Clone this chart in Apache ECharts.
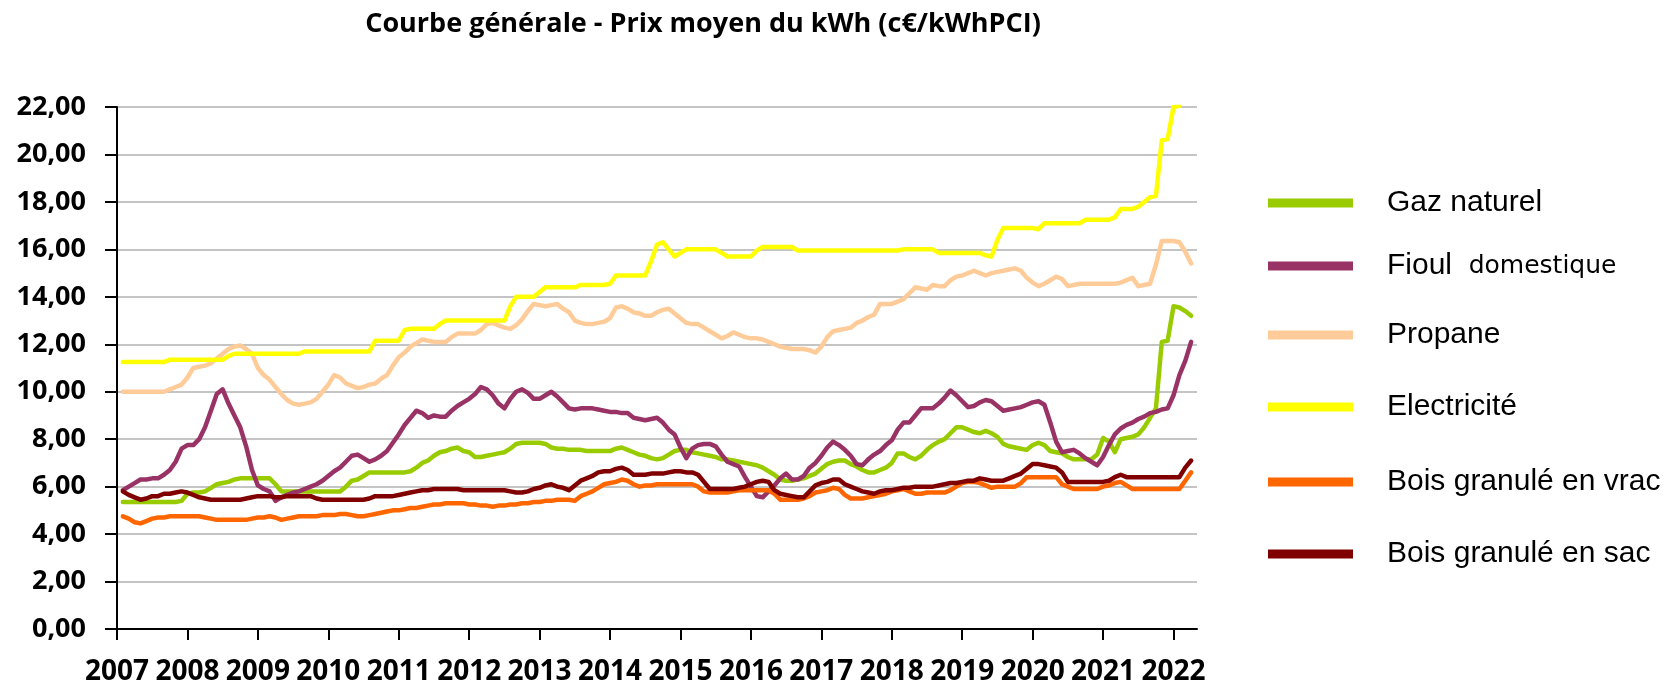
<!DOCTYPE html>
<html>
<head>
<meta charset="utf-8">
<script src="https://cdn.jsdelivr.net/npm/echarts@6/dist/echarts.min.js"></script>
<style>
html,body{margin:0;padding:0;background:#fff;}
#chart{width:1672px;height:686px;}
</style>
</head>
<body>
<div id="chart"></div>
<script>
// ---- Data (c€/kWhPCI), monthly, Jan 2007 .. May 2022 ----
const years = [2007,2008,2009,2010,2011,2012,2013,2014,2015,2016,2017,2018,2019,2020,2021,2022];
const lastYearMonths = 5;
const seriesNames = ['Gaz naturel','Fioul domestique','Propane','Electricité','Bois granulé en vrac','Bois granulé en sac'];
const yTicks = [0,2,4,6,8,10,12,14,16,18,20,22];

const gaz = [
  null,5.35,5.35,5.35,5.35,5.35,5.35,5.35,5.35,5.35,5.35,5.4,
  5.7,5.75,5.75,5.8,5.95,6.1,6.15,6.2,6.3,6.35,6.35,6.35,
  6.35,6.35,6.35,6.1,5.8,5.8,5.8,5.8,5.8,5.8,5.8,5.8,
  5.8,5.8,5.8,6.0,6.25,6.3,6.45,6.6,6.6,6.6,6.6,6.6,
  6.6,6.6,6.65,6.8,7.0,7.1,7.3,7.45,7.5,7.6,7.65,7.5,
  7.45,7.25,7.25,7.3,7.35,7.4,7.45,7.6,7.8,7.85,7.85,7.85,
  7.85,7.8,7.65,7.6,7.6,7.55,7.55,7.55,7.5,7.5,7.5,7.5,
  7.5,7.6,7.65,7.55,7.45,7.35,7.3,7.2,7.15,7.2,7.35,7.5,
  7.55,7.55,7.45,7.4,7.35,7.3,7.25,7.15,7.15,7.1,7.05,7.0,
  6.95,6.9,6.8,6.65,6.5,6.3,6.25,6.25,6.3,6.35,6.45,6.55,
  6.75,6.95,7.05,7.1,7.1,6.95,6.85,6.7,6.6,6.6,6.7,6.8,
  7.0,7.4,7.4,7.25,7.15,7.3,7.55,7.75,7.9,8.0,8.25,8.5,
  8.5,8.4,8.3,8.25,8.35,8.25,8.1,7.8,7.7,7.65,7.6,7.55,
  7.75,7.85,7.75,7.5,7.45,7.4,7.25,7.15,7.15,7.15,7.15,7.35,
  8.05,7.9,7.45,8.0,8.05,8.1,8.2,8.5,8.9,9.3,12.1,12.15,
  13.6,13.55,13.4,13.2,null
];
const fioul = [
  null,5.85,6.0,6.15,6.3,6.3,6.35,6.35,6.5,6.7,7.05,7.6,
  7.75,7.75,8.0,8.5,9.2,9.9,10.1,9.5,9.0,8.5,7.7,6.7,
  6.05,5.9,5.8,5.4,5.55,5.65,5.75,5.8,5.9,6.0,6.1,6.25,
  6.45,6.65,6.8,7.05,7.3,7.35,7.2,7.05,7.15,7.3,7.5,7.85,
  8.2,8.6,8.9,9.2,9.1,8.9,9.0,8.95,8.95,9.2,9.4,9.55,
  9.7,9.9,10.2,10.1,9.85,9.5,9.3,9.7,10.0,10.1,9.95,9.7,
  9.7,9.85,10.0,9.8,9.55,9.3,9.25,9.3,9.3,9.3,9.25,9.2,
  9.15,9.15,9.1,9.1,8.9,8.85,8.8,8.85,8.9,8.7,8.4,8.2,
  7.65,7.2,7.6,7.75,7.8,7.8,7.7,7.35,7.05,6.95,6.85,6.4,
  6.0,5.6,5.55,5.8,6.05,6.35,6.55,6.3,6.3,6.45,6.8,7.0,
  7.3,7.65,7.9,7.75,7.55,7.3,6.95,6.9,7.15,7.35,7.5,7.75,
  7.95,8.4,8.7,8.7,9.0,9.3,9.3,9.3,9.5,9.75,10.05,9.85,
  9.6,9.35,9.4,9.55,9.65,9.6,9.4,9.2,9.25,9.3,9.35,9.45,
  9.55,9.6,9.45,8.7,7.9,7.45,7.5,7.55,7.4,7.2,7.05,6.9,
  7.25,7.75,8.2,8.45,8.6,8.7,8.85,8.95,9.1,9.15,9.25,9.3,
  9.85,10.7,11.3,12.1,null
];
const propane = [
  null,10.0,10.0,10.0,10.0,10.0,10.0,10.0,10.0,10.1,10.2,10.3,
  10.6,11.0,11.05,11.1,11.2,11.4,11.6,11.8,11.9,11.95,11.8,11.6,
  11.0,10.7,10.5,10.2,9.9,9.65,9.5,9.45,9.5,9.55,9.7,10.0,
  10.3,10.7,10.6,10.35,10.25,10.15,10.2,10.3,10.35,10.55,10.7,11.1,
  11.45,11.65,11.9,12.05,12.2,12.15,12.1,12.1,12.1,12.3,12.45,12.45,
  12.45,12.45,12.6,12.85,12.9,12.8,12.7,12.65,12.8,13.05,13.4,13.7,
  13.65,13.6,13.65,13.7,13.5,13.35,13.0,12.9,12.85,12.85,12.9,12.95,
  13.1,13.55,13.6,13.5,13.35,13.3,13.2,13.2,13.35,13.45,13.5,13.3,
  13.1,12.9,12.85,12.85,12.7,12.55,12.4,12.25,12.35,12.5,12.4,12.3,
  12.25,12.25,12.2,12.1,12.0,11.9,11.85,11.8,11.8,11.8,11.75,11.65,
  11.9,12.3,12.55,12.6,12.65,12.7,12.9,13.0,13.15,13.25,13.7,13.7,
  13.7,13.8,13.9,14.15,14.4,14.35,14.3,14.5,14.45,14.45,14.7,14.85,
  14.9,15.0,15.1,15.0,14.9,15.0,15.05,15.1,15.15,15.2,15.1,14.8,
  14.6,14.45,14.55,14.7,14.85,14.75,14.45,14.5,14.55,14.55,14.55,14.55,
  14.55,14.55,14.55,14.6,14.7,14.8,14.45,14.5,14.55,15.35,16.35,16.35,
  16.35,16.3,15.9,15.4,null
];
const electricite = [
  null,11.25,11.25,11.25,11.25,11.25,11.25,11.25,11.25,11.35,11.35,11.35,
  11.35,11.35,11.35,11.35,11.35,11.35,11.35,11.5,11.6,11.6,11.6,11.6,
  11.6,11.6,11.6,11.6,11.6,11.6,11.6,11.6,11.7,11.7,11.7,11.7,
  11.7,11.7,11.7,11.7,11.7,11.7,11.7,11.7,12.15,12.15,12.15,12.15,
  12.15,12.6,12.65,12.65,12.65,12.65,12.65,12.85,13.0,13.0,13.0,13.0,
  13.0,13.0,13.0,13.0,13.0,13.0,13.0,13.6,14.0,14.0,14.0,14.0,
  14.2,14.4,14.4,14.4,14.4,14.4,14.4,14.5,14.5,14.5,14.5,14.5,
  14.55,14.9,14.9,14.9,14.9,14.9,14.9,15.5,16.2,16.3,16.0,15.7,
  15.85,16.0,16.0,16.0,16.0,16.0,16.0,15.85,15.7,15.7,15.7,15.7,
  15.7,15.95,16.1,16.1,16.1,16.1,16.1,16.1,15.95,15.95,15.95,15.95,
  15.95,15.95,15.95,15.95,15.95,15.95,15.95,15.95,15.95,15.95,15.95,15.95,
  15.95,15.95,16.0,16.0,16.0,16.0,16.0,16.0,15.85,15.85,15.85,15.85,
  15.85,15.85,15.85,15.85,15.75,15.7,16.4,16.9,16.9,16.9,16.9,16.9,
  16.9,16.85,17.1,17.1,17.1,17.1,17.1,17.1,17.1,17.25,17.25,17.25,
  17.25,17.25,17.35,17.7,17.7,17.7,17.8,18.0,18.2,18.25,20.6,20.65,
  22.0,22.05,23.5,23.6,null
];
const boisVrac = [
  null,4.75,4.65,4.5,4.45,4.55,4.65,4.7,4.7,4.75,4.75,4.75,
  4.75,4.75,4.75,4.7,4.65,4.6,4.6,4.6,4.6,4.6,4.6,4.65,
  4.7,4.7,4.75,4.7,4.6,4.65,4.7,4.75,4.75,4.75,4.75,4.8,
  4.8,4.8,4.85,4.85,4.8,4.75,4.75,4.8,4.85,4.9,4.95,5.0,
  5.0,5.05,5.1,5.1,5.15,5.2,5.25,5.25,5.3,5.3,5.3,5.3,
  5.25,5.25,5.2,5.2,5.15,5.2,5.2,5.25,5.25,5.3,5.3,5.35,
  5.35,5.4,5.4,5.45,5.45,5.45,5.4,5.6,5.7,5.8,5.95,6.1,
  6.15,6.2,6.3,6.25,6.1,6.0,6.05,6.05,6.1,6.1,6.1,6.1,
  6.1,6.1,6.1,6.0,5.8,5.75,5.75,5.75,5.75,5.8,5.85,5.85,
  5.85,5.85,5.85,5.85,5.7,5.45,5.45,5.45,5.45,5.5,5.6,5.75,
  5.8,5.85,5.95,5.9,5.65,5.5,5.5,5.5,5.55,5.6,5.65,5.7,
  5.8,5.85,5.9,5.8,5.7,5.7,5.75,5.75,5.75,5.75,5.85,6.0,
  6.15,6.2,6.2,6.15,6.05,5.95,6.0,6.0,6.0,6.0,6.15,6.4,
  6.4,6.4,6.4,6.4,6.4,6.1,6.0,5.9,5.9,5.9,5.9,5.9,
  6.0,6.05,6.15,6.2,6.05,5.9,5.9,5.9,5.9,5.9,5.9,5.9,
  5.9,5.9,6.25,6.6,null
];
const boisSac = [
  null,5.8,5.65,5.55,5.45,5.5,5.6,5.6,5.7,5.7,5.75,5.8,
  5.75,5.65,5.55,5.5,5.45,5.45,5.45,5.45,5.45,5.45,5.5,5.55,
  5.6,5.6,5.6,5.55,5.55,5.6,5.6,5.6,5.6,5.6,5.5,5.45,
  5.45,5.45,5.45,5.45,5.45,5.45,5.45,5.5,5.6,5.6,5.6,5.6,
  5.65,5.7,5.75,5.8,5.85,5.85,5.9,5.9,5.9,5.9,5.9,5.85,
  5.85,5.85,5.85,5.85,5.85,5.85,5.85,5.8,5.75,5.75,5.8,5.9,
  5.95,6.05,6.1,6.0,5.95,5.85,6.05,6.25,6.35,6.45,6.6,6.65,
  6.65,6.75,6.8,6.7,6.5,6.5,6.5,6.55,6.55,6.55,6.6,6.65,
  6.65,6.6,6.6,6.5,6.2,5.9,5.9,5.9,5.9,5.9,5.95,6.0,
  6.1,6.2,6.25,6.2,5.85,5.7,5.65,5.6,5.55,5.55,5.8,6.05,
  6.15,6.2,6.3,6.3,6.1,6.0,5.9,5.8,5.75,5.7,5.8,5.85,
  5.85,5.9,5.95,5.95,6.0,6.0,6.0,6.0,6.05,6.1,6.15,6.15,
  6.2,6.25,6.25,6.35,6.3,6.25,6.25,6.25,6.35,6.45,6.55,6.75,
  6.95,6.95,6.9,6.85,6.8,6.6,6.2,6.2,6.2,6.2,6.2,6.2,
  6.2,6.25,6.4,6.5,6.4,6.4,6.4,6.4,6.4,6.4,6.4,6.4,
  6.4,6.4,6.8,7.1,null
];
const seriesColors = ['#99CC00','#993366','#FFCC99','#FFFF00','#FF6600','#800000'];

// ---- Build categories ----
const months = [];
years.forEach((y, i) => {
  const n = (i === years.length - 1) ? lastYearMonths : 12;
  for (let m = 1; m <= n; m++) months.push(y + '-' + (m < 10 ? '0' + m : m));
});
const allData = [gaz, fioul, propane, electricite, boisVrac, boisSac];

const chart = echarts.init(document.getElementById('chart'), null, {renderer: 'canvas'});
const isJan = (idx, val) => String(val).slice(5) === '01';
const legendCenters = [203, 266, 335, 407, 482, 554];

const option = {
  animation: false,
  backgroundColor: '#ffffff',
  title: {
    text: 'Courbe générale - Prix moyen du kWh (c€/kWhPCI)',
    left: 703,
    top: 8,
    textAlign: 'center',
    padding: 0,
    textStyle: {fontFamily: 'Open Sans', fontWeight: 'bold', fontSize: 27, color: '#000', lineHeight: 32}
  },
  grid: {left: 117, right: 475, top: 107, bottom: 55, containLabel: false},
  xAxis: {
    type: 'category',
    data: months,
    boundaryGap: false,
    axisLine: {show: true, onZero: false, lineStyle: {color: '#000', width: 2}},
    axisTick: {show: true, interval: isJan, length: 11, inside: false, lineStyle: {color: '#000', width: 2}},
    axisLabel: {
      interval: isJan, margin: 29, hideOverlap: false,
      formatter: v => v.slice(0, 4),
      fontFamily: 'Open Sans', fontWeight: 'bold', fontSize: 28, color: '#000'
    },
    splitLine: {show: false}
  },
  yAxis: {
    type: 'value',
    min: yTicks[0], max: yTicks[yTicks.length - 1], interval: 2,
    axisLine: {show: true, lineStyle: {color: '#000', width: 2}},
    axisTick: {show: true, length: 12, inside: false, lineStyle: {color: '#000', width: 2}},
    axisLabel: {
      margin: 31,
      formatter: v => v.toFixed(2).replace('.', ','),
      fontFamily: 'Open Sans', fontWeight: 'bold', fontSize: 27, color: '#000'
    },
    splitLine: {show: true, lineStyle: {color: '#C4C4C4', width: 2}}
  },
  legend: seriesNames.map((name, i) => ({
    data: [name],
    orient: 'vertical',
    left: 1268,
    top: legendCenters[i] - 17,
    padding: 0,
    icon: 'rect',
    itemWidth: 85,
    itemHeight: 9,
    selectedMode: false,
    formatter: n => n === 'Fioul domestique' ? 'Fioul  {d|domestique}' : n,
    textStyle: {
      fontFamily: 'Liberation Sans', fontSize: 30, color: '#000', lineHeight: 34,
      padding: [0, 0, 0, 29],
      rich: {d: {fontFamily: 'DejaVu Sans', fontSize: 25, color: '#000', lineHeight: 34}}
    }
  })),
  series: seriesNames.map((name, i) => ({
    name: name,
    type: 'line',
    data: allData[i],
    showSymbol: false,
    symbol: 'none',
    clip: true,
    connectNulls: false,
    color: seriesColors[i],
    lineStyle: {width: 4.5, color: seriesColors[i], cap: 'round', join: 'round'},
    emphasis: {disabled: true}
  }))
};
chart.setOption(option);
</script>
</body>
</html>
